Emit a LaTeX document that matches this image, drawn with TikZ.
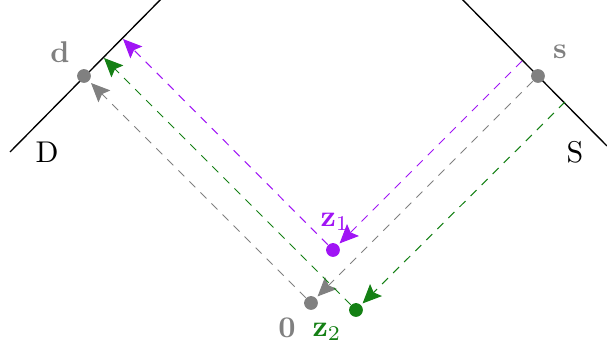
\documentclass[tikz,border=0pt]{standalone}
\usetikzlibrary{arrows.meta}
\definecolor{myviolet}{RGB}{160,20,245}
\definecolor{mygreen}{RGB}{20,128,20}
\definecolor{mygray}{RGB}{128,128,128}
\begin{document}
\begin{tikzpicture}[x=0.3333pt,y=-0.3333pt,
  ray/.style={dash pattern=on 2.8pt off 2.4pt, line width=0.35pt},
  tip/.style={-{Stealth[length=6.3pt,width=5.6pt,inset=1.1pt]}},
  dot/.style={circle,fill=#1,inner sep=0pt,minimum size=4.6pt},
  lbl/.style={text=#1,font=\bfseries}]
\useasboundingbox (0,0) rectangle (607,351);
\begin{scope}
\clip (0,0) rectangle (607,351);
% planes
\coordinate (D1) at (10,152);
\coordinate (D2) at (170,-10);
\coordinate (S1) at (453,-10);
\coordinate (S2) at (607,146);
\draw[line width=0.45pt] (D1) -- (D2);
\draw[line width=0.45pt] (S1) -- (S2);
\end{scope}
% points
\node[dot=mygray] (d) at (84,76) {};
\node[dot=mygray] (s) at (538,76) {};
\node[dot=mygray] (o) at (311,303) {};
\node[dot=myviolet] (z1) at (333,250) {};
\node[dot=mygreen] (z2) at (356,310) {};
% ray end points on the planes
\coordinate (A1) at (522,61);
\coordinate (B1) at (123,39);
\coordinate (A2) at (565,102);
\coordinate (B2) at (104,58);
% gray rays
\draw[ray,mygray,tip,shorten >=0.6pt] (s) -- (o);
\draw[ray,mygray,tip,shorten >=0.8pt] (o) -- (d);
% violet rays
\draw[ray,myviolet,tip,shorten >=0.6pt] (A1) -- (z1);
\draw[ray,myviolet,tip] (z1) -- (B1);
% green rays
\draw[ray,mygreen,tip,shorten >=0.6pt] (A2) -- (z2);
\draw[ray,mygreen,tip] (z2) -- (B2);
% labels
\node[lbl=mygray] (ld) at (60,52) {d};
\node[lbl=mygray] (ls) at (560,52) {s};
\node[lbl=mygray] (lo) at (287,328) {0};
\node[text=myviolet] (lz1) at (335,222) {$\mathbf{z}_1$};
\node[text=mygreen] (lz2) at (327,332) {$\mathbf{z}_2$};
\node (lD) at (47,152) {D};
\node (lS) at (575,152) {S};
\end{tikzpicture}
\end{document}
